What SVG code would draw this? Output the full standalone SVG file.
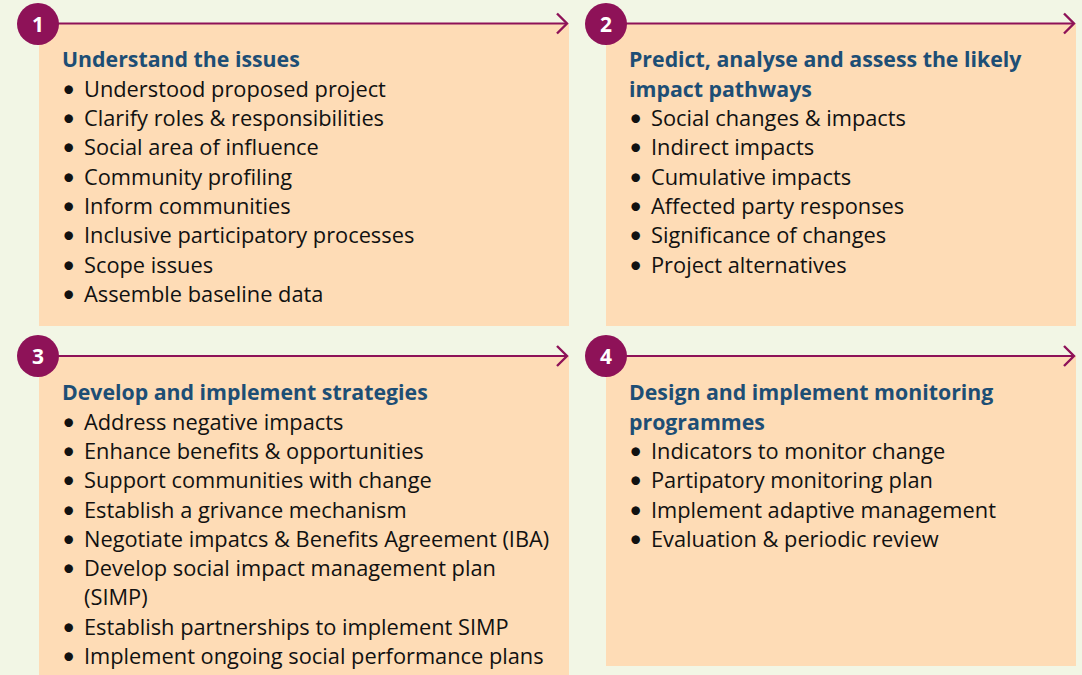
<svg xmlns="http://www.w3.org/2000/svg" width="1082" height="675" viewBox="0 0 1082 675">
<style>
.box{fill:#fedcb6}
.ln{stroke:#8e1258;stroke-width:2.2;fill:none}
.circ{fill:#8e1258}
.num{font-family:"Open Sans",Lato,sans-serif;font-weight:bold;font-size:21px;fill:#fff;text-anchor:middle}
.ttl{font-family:"Open Sans",Lato,sans-serif;font-weight:bold;font-size:21.3px;fill:#1d4e75}
.it{font-family:"Open Sans",Lato,sans-serif;font-size:21.8px;fill:#111}
.bl{font-family:Lato,sans-serif;font-size:23px;fill:#111}
</style>
<defs>
<path id="ah" d="M-10,-10 L0,0 L-10,10" fill="none" stroke="#8e1258" stroke-width="2.4"/>
</defs>
<rect width="1082" height="675" fill="#f2f6e5"/>
<g id="node1">
<rect class="box" x="39" y="24" width="530" height="302"/>
<text class="ttl" x="62" y="67">Understand the issues</text>
<g class="bl">
<text x="62" y="97">•</text><text x="62" y="126">•</text><text x="62" y="155">•</text><text x="62" y="185">•</text><text x="62" y="214">•</text><text x="62" y="243">•</text><text x="62" y="273">•</text><text x="62" y="302">•</text>
</g>
<g class="it">
<text x="84" y="97">Understood proposed project</text>
<text x="84" y="126">Clarify roles &amp; responsibilities</text>
<text x="84" y="155">Social area of influence</text>
<text x="84" y="185">Community profiling</text>
<text x="84" y="214">Inform communities</text>
<text x="84" y="243">Inclusive participatory processes</text>
<text x="84" y="273">Scope issues</text>
<text x="84" y="302">Assemble baseline data</text>
</g>
</g>
<g id="node2">
<rect class="box" x="606" y="24" width="470" height="302"/>
<text class="ttl" x="629" y="67">Predict, analyse and assess the likely</text>
<text class="ttl" x="629" y="97">impact pathways</text>
<g class="bl">
<text x="629" y="126">•</text><text x="629" y="155">•</text><text x="629" y="185">•</text><text x="629" y="214">•</text><text x="629" y="243">•</text><text x="629" y="273">•</text>
</g>
<g class="it">
<text x="651" y="126">Social changes &amp; impacts</text>
<text x="651" y="155">Indirect impacts</text>
<text x="651" y="185">Cumulative impacts</text>
<text x="651" y="214">Affected party responses</text>
<text x="651" y="243">Significance of changes</text>
<text x="651" y="273">Project alternatives</text>
</g>
</g>
<g id="node3">
<rect class="box" x="39" y="356" width="530" height="319"/>
<text class="ttl" x="62" y="400">Develop and implement strategies</text>
<g class="bl">
<text x="62" y="430">•</text><text x="62" y="459">•</text><text x="62" y="488">•</text><text x="62" y="518">•</text><text x="62" y="547">•</text><text x="62" y="576">•</text><text x="62" y="635">•</text><text x="62" y="664">•</text>
</g>
<g class="it">
<text x="84" y="430">Address negative impacts</text>
<text x="84" y="459">Enhance benefits &amp; opportunities</text>
<text x="84" y="488">Support communities with change</text>
<text x="84" y="518">Establish a grivance mechanism</text>
<text x="84" y="547">Negotiate impatcs &amp; Benefits Agreement (IBA)</text>
<text x="84" y="576">Develop social impact management plan</text>
<text x="84" y="605">(SIMP)</text>
<text x="84" y="635">Establish partnerships to implement SIMP</text>
<text x="84" y="664">Implement ongoing social performance plans</text>
</g>
</g>
<g id="node4">
<rect class="box" x="606" y="356" width="470" height="310"/>
<text class="ttl" x="629" y="400">Design and implement monitoring</text>
<text class="ttl" x="629" y="430">programmes</text>
<g class="bl">
<text x="629" y="459">•</text><text x="629" y="488">•</text><text x="629" y="518">•</text><text x="629" y="547">•</text>
</g>
<g class="it">
<text x="651" y="459">Indicators to monitor change</text>
<text x="651" y="488">Partipatory monitoring plan</text>
<text x="651" y="518">Implement adaptive management</text>
<text x="651" y="547">Evaluation &amp; periodic review</text>
</g>
</g>
<g id="connectors">
<line class="ln" x1="58" y1="23.5" x2="567" y2="23.5"/>
<use href="#ah" x="567" y="23.5"/>
<line class="ln" x1="626" y1="23.5" x2="1074" y2="23.5"/>
<use href="#ah" x="1074" y="23.5"/>
<line class="ln" x1="58" y1="356" x2="567" y2="356"/>
<use href="#ah" x="567" y="356"/>
<line class="ln" x1="626" y1="356" x2="1074" y2="356"/>
<use href="#ah" x="1074" y="356"/>
</g>
<g id="badges">
<g id="badge1"><circle class="circ" cx="38" cy="24" r="21"/><text class="num" x="38" y="31.5">1</text></g>
<g id="badge2"><circle class="circ" cx="606" cy="24" r="21"/><text class="num" x="606" y="31.5">2</text></g>
<g id="badge3"><circle class="circ" cx="38" cy="356" r="21"/><text class="num" x="38" y="363.5">3</text></g>
<g id="badge4"><circle class="circ" cx="606" cy="356" r="21"/><text class="num" x="606" y="363.5">4</text></g>
</g>
</svg>
